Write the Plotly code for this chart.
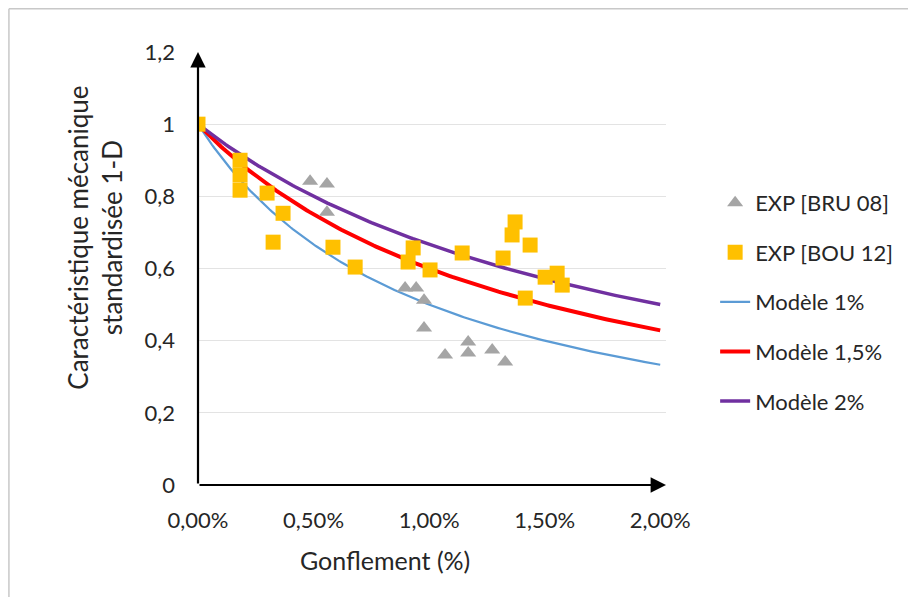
import numpy as np
import plotly.graph_objects as go

# --- data ---
bru_x = [0.0, 0.485, 0.558, 0.558, 0.896, 0.944, 0.978, 0.978, 1.069, 1.169, 1.169, 1.273, 1.329]
bru_y = [1.0, 0.842, 0.834, 0.756, 0.546, 0.546, 0.512, 0.435, 0.360, 0.396, 0.366, 0.374, 0.341]

bou_x = [0.0, 0.182, 0.182, 0.182, 0.299, 0.368, 0.325, 0.584, 0.680, 0.931, 0.909, 1.004,
         1.143, 1.320, 1.372, 1.359, 1.437, 1.416, 1.502, 1.554, 1.576]
bou_y = [1.0, 0.900, 0.859, 0.817, 0.809, 0.753, 0.673, 0.659, 0.604, 0.657, 0.618, 0.596,
         0.643, 0.629, 0.729, 0.693, 0.665, 0.518, 0.576, 0.587, 0.554]

model_params = [1.0, 1.5, 2.0]
model_names = ["Modèle 1%", "Modèle 1,5%", "Modèle 2%"]
model_colors = ["#5B9BD5", "#FF0000", "#7030A0"]
model_widths = [2.2, 4, 3.5]

x_ticks = [0, 0.5, 1.0, 1.5, 2.0]
x_ticktext = ["0,00%", "0,50%", "1,00%", "1,50%", "2,00%"]
y_ticks = [0, 0.2, 0.4, 0.6, 0.8, 1.0, 1.2]
y_ticktext = ["0", "0,2", "0,4", "0,6", "0,8", "1", "1,2"]

FONT = "Lato"
TXT = "#262626"

fig = go.Figure()

xs = np.linspace(0, 2.0, 201)
for i, (p, name, col, w) in enumerate(zip(model_params, model_names, model_colors, model_widths)):
    fig.add_trace(go.Scatter(
        x=xs, y=1.0 / (1.0 + xs / p), mode="lines", name=name,
        line=dict(color=col, width=w), legendrank=3 + i, legendgroup=name,
    ))

fig.add_trace(go.Scatter(
    x=bru_x, y=bru_y, mode="markers", name="EXP [BRU 08]",
    marker=dict(symbol="triangle-up", size=14, color="#A5A5A5"),
    legendrank=1, legendgroup="bru",
))
fig.add_trace(go.Scatter(
    x=bou_x, y=bou_y, mode="markers", name="EXP [BOU 12]",
    marker=dict(symbol="square", size=15, color="#FFC000"),
    legendrank=2, legendgroup="bou",
))

# axis arrows
fig.add_annotation(x=0, y=1.2, ax=0, ay=0, xref="x", yref="y", axref="x", ayref="y",
                   text="", showarrow=True, arrowhead=2, arrowsize=1.4, arrowwidth=2.2,
                   arrowcolor="black")
fig.add_annotation(x=2.025, y=0, ax=0, ay=0, xref="x", yref="y", axref="x", ayref="y",
                   text="", showarrow=True, arrowhead=2, arrowsize=1.4, arrowwidth=2.2,
                   arrowcolor="black")

# axis titles
fig.add_annotation(text="Caractéristique mécanique<br>standardisée 1-D", textangle=-90,
                   xref="paper", yref="paper", x=-0.219, y=0.570, xanchor="center",
                   yanchor="middle", showarrow=False, font=dict(size=26, color=TXT))
fig.add_annotation(text="Gonflement (%)", xref="paper", yref="paper", x=0.40, y=-0.173,
                   xanchor="center", yanchor="middle", showarrow=False,
                   font=dict(size=25, color=TXT))

# light frame (top and left edges)
fig.add_shape(type="line", xref="paper", yref="paper", x0=-0.404, x1=1.6, y0=1.10, y1=1.10,
              line=dict(color="#C8C8C8", width=1.5))
fig.add_shape(type="line", xref="paper", yref="paper", x0=-0.404, x1=-0.404, y0=-0.3, y1=1.10,
              line=dict(color="#C8C8C8", width=1.5))

fig.update_layout(
    width=916, height=597,
    margin=dict(l=190, r=258, t=44, b=120),
    paper_bgcolor="white", plot_bgcolor="white",
    font=dict(family=FONT, size=21, color=TXT),
    legend=dict(x=1.105, y=0.70, xanchor="left", yanchor="top",
                font=dict(size=22, color=TXT), tracegroupgap=18,
                bgcolor="rgba(0,0,0,0)"),
    xaxis=dict(range=[0, 2.025], tickvals=x_ticks, ticktext=x_ticktext,
               showgrid=False, zeroline=False, showline=False, automargin=False,
               ticks="", ticklabelstandoff=20, tickfont=dict(size=22)),
    yaxis=dict(range=[0, 1.2], tickvals=y_ticks, ticktext=y_ticktext,
               showgrid=True, gridcolor="#E3E3E3", gridwidth=1, zeroline=False,
               showline=False, ticks="", ticklabelstandoff=22, automargin=False,
               tickfont=dict(size=22)),
)

fig.write_html("out.html")
